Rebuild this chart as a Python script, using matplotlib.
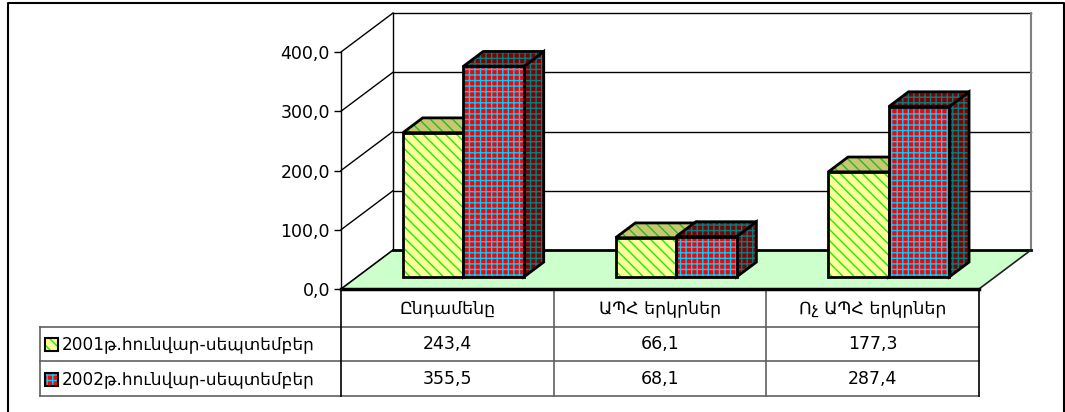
import numpy as np
import matplotlib.pyplot as plt
from matplotlib.patches import Polygon, Rectangle

categories = ['Ընդամենը', 'ԱՊՀ երկրներ', 'Ոչ ԱՊՀ երկրներ']
series = ['2001թ.հունվար-սեպտեմբեր', '2002թ.հունվար-սեպտեմբեր']
values_2001 = [243.4, 66.1, 177.3]
values_2002 = [355.5, 68.1, 287.4]
yticks = [0, 100, 200, 300, 400]

plt.rcParams['font.family'] = ['DejaVu Sans']
plt.rcParams['hatch.linewidth'] = 1.0

W, H = 1065, 412
fig = plt.figure(figsize=(W / 100, H / 100), dpi=100)

# pixel-space overlay for the frame and the data table
ov = fig.add_axes([0, 0, 1, 1])
ov.set_xlim(0, W)
ov.set_ylim(H, 0)
ov.axis('off')

# front plane of the 3d plot
fx0, fx1, fy0, fy1 = 341, 979, 289, 52
ax = fig.add_axes([fx0 / W, 1 - fy0 / H, (fx1 - fx0) / W, (fy0 - fy1) / H])
ax.set_xlim(0, 3)
ax.set_ylim(0, 400)
ax.set_facecolor('none')
for s in ['top', 'right', 'bottom']:
    ax.spines[s].set_visible(False)
ax.spines['left'].set_linewidth(1.0)
ax.set_xticks([])
ax.set_yticks(yticks)
ax.set_yticklabels([f'{v:.1f}'.replace('.', ',') for v in yticks])
ax.tick_params(axis='y', direction='out', length=5, width=1, labelsize=12.5, pad=3)

# depth offset in data units
DX = 52 / ((fx1 - fx0) / 3)
DY = 39 / ((fy0 - fy1) / 400)


def p(x, v, d):
    return (x + d * DX, v + d * DY)


def poly(pts, z, **kw):
    ax.add_patch(Polygon(pts, closed=True, clip_on=False, zorder=z, **kw))


def line(a, b, z=2, **kw):
    ax.plot([a[0], b[0]], [a[1], b[1]], clip_on=False, zorder=z, solid_capstyle='projecting', **kw)


# back wall
poly([p(0, 0, 1), p(3, 0, 1), p(3, 400, 1), p(0, 400, 1)], 1, facecolor='white', edgecolor='none')
for v in yticks[1:]:
    line(p(0, v, 1), p(3, v, 1), color='black', lw=1)
    line(p(0, v, 0), p(0, v, 1), color='black', lw=1)
line(p(0, 0, 1), p(0, 400, 1), color='black', lw=1)
line(p(3, 0, 1), p(3, 400, 1), color='#808080', lw=1.5)

# floor
poly([p(0, 0, 0), p(3, 0, 0), p(3, 0, 1), p(0, 0, 1)], 3, facecolor='#CCFFCC', edgecolor='none')
line(p(0, 0, 1), p(3, 0, 1), z=4, color='black', lw=2)
line(p(0, 0, 0), p(0, 0, 1), z=4, color='black', lw=1.2)
line(p(3, 0, 0), p(3, 0, 1), z=4, color='#202020', lw=1.2)
line(p(0, 0, 0), p(3, 0, 0), z=4, color='black', lw=2.5)

styles = [
    dict(front=('#FFFF99', '#11EE11', '\\\\\\'), shade=('#C8C870', '#22BB22', '\\\\\\')),
    dict(front=('#FF0000', '#00CCFF', '+++'), shade=('#800000', '#008080', '+++')),
]

bw = 60.5 / ((fx1 - fx0) / 3)
d0, d1 = 0.31, 0.69
z = 10
for i in range(len(categories)):
    for j, vals in enumerate([values_2001, values_2002]):
        xl = i + 0.5 - bw + j * bw
        xr = xl + bw
        v = vals[i]
        faces = [
            ([p(xr, 0, d0), p(xr, 0, d1), p(xr, v, d1), p(xr, v, d0)], styles[j]['shade']),
            ([p(xl, v, d0), p(xr, v, d0), p(xr, v, d1), p(xl, v, d1)], styles[j]['shade']),
            ([p(xl, 0, d0), p(xr, 0, d0), p(xr, v, d0), p(xl, v, d0)], styles[j]['front']),
        ]
        for pts, (fc, hc, hatch) in faces:
            poly(pts, z, facecolor=fc, edgecolor=hc, lw=0, hatch=hatch)
            poly(pts, z + 0.5, fill=False, edgecolor='black', lw=2, joinstyle='miter')
            z += 1

# data table
fig.canvas.draw()
col_px = [ax.transData.transform((c, 0))[0] for c in range(4)]
tc = '#606060'
row_y = [327, 361, 396]
for y in row_y:
    ov.plot([40, col_px[-1]], [y, y], color=tc, lw=1.2)
ov.plot([40, 40], [row_y[0], row_y[-1]], color=tc, lw=1.2)
for k, x in enumerate(col_px):
    ov.plot([x, x], [fy0, row_y[-1]], color=tc if 0 < k < 3 else 'black', lw=1.2)

for k, name in enumerate(categories):
    xm = (col_px[k] + col_px[k + 1]) / 2
    ov.text(xm, 308, name, ha='center', va='center', fontsize=12.5)
    ov.text(xm, 344, f'{values_2001[k]:.1f}'.replace('.', ','), ha='center', va='center', fontsize=12.5)
    ov.text(xm, 379, f'{values_2002[k]:.1f}'.replace('.', ','), ha='center', va='center', fontsize=12.5)

for j, (name, yc) in enumerate(zip(series, [344, 379])):
    fc, hc, hatch = styles[j]['front']
    ov.add_patch(Rectangle((45, yc - 6.5), 13, 13, facecolor=fc, edgecolor=hc, lw=0, hatch=hatch))
    ov.add_patch(Rectangle((45, yc - 6.5), 13, 13, fill=False, edgecolor='black', lw=1.5))
    ov.text(62, yc, name, ha='left', va='center', fontsize=12.2)

# outer frame
ov.plot([8, 8, 1064, 1064], [H, 3, 3, H], color='black', lw=1.5)

fig.savefig('out.png', dpi=100)
